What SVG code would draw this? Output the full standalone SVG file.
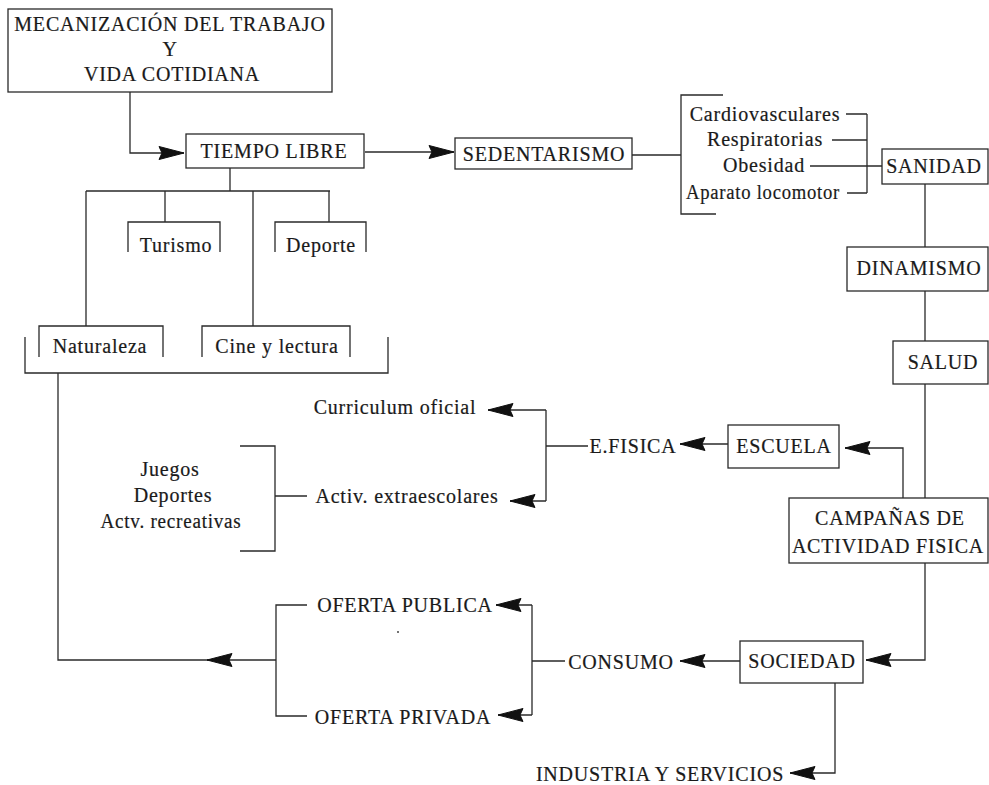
<svg xmlns="http://www.w3.org/2000/svg" width="989" height="785" viewBox="0 0 989 785">
<style>
text{font-family:"Liberation Serif","Times New Roman",serif;font-size:20px;fill:#1a1a1a;stroke:#1a1a1a;stroke-width:0.2px;letter-spacing:0.8px;text-anchor:middle}
.box{fill:#fff;stroke:#2a2a2a;stroke-width:1.3}
.ln{fill:none;stroke:#2a2a2a;stroke-width:1.3}
.ar{marker-end:url(#ah)}
.head{fill:#111;stroke:#111;stroke-width:1;stroke-linejoin:miter}
</style>
<defs>
<marker id="ah" viewBox="-27 -9 28 18" refX="0" refY="0" markerWidth="28" markerHeight="18" markerUnits="userSpaceOnUse" orient="auto">
<polygon class="head" points="0,0 -25,-6.5 -22,0 -25,6.5"/>
</marker>
</defs>
<rect width="989" height="785" fill="#fff"/>
<g id="connectors">
<path class="ln ar" d="M130,92 V153 H184"/>
<path class="ln ar" d="M365,152 H454"/>
<path class="ln" d="M230,168 V191 M86,191 H330 M86,191 V326 M165,191 V222 M253,191 V326 M329,191 V222"/>
<path class="ln" d="M25,337 V373 H388 V337"/>
<path class="ln" d="M58,373 V660 H210"/>
<path class="ln ar" d="M276,660 H207"/>
<path class="ln" d="M307,605 H276 V716 H307"/>
<path class="ln" d="M565,661 H532 M532,605 V715"/>
<path class="ln ar" d="M532,605 H496"/>
<path class="ln ar" d="M532,715 H498"/>
<path class="ln ar" d="M740,661 H680"/>
<path class="ln ar" d="M835,683 V773 H790"/>
<path class="ln ar" d="M925,563 V660 H866"/>
<path class="ln" d="M925,184 V247 M925,291 V341 M925,384 V498"/>
<path class="ln ar" d="M903,498 V448 H845"/>
<path class="ln ar" d="M728,444 H680"/>
<path class="ln" d="M588,446 H546 M546,410 V501"/>
<path class="ln ar" d="M546,410 H488"/>
<path class="ln ar" d="M546,501 H510"/>
<path class="ln" d="M240,446 H275 V551 H240 M275,496 H307"/>
<path class="ln" d="M632,155 H681 M723,95 H681 V214 H716"/>
<path class="ln" d="M846,114 H867 M832,140 H867 M810,166 H882 M847,193 H867 M867,114 V193"/>
<circle cx="398" cy="632" r="1" fill="#444"/>
</g>
<g id="mecanizacion">
<rect class="box" x="8" y="9" width="324" height="83"/>
<text x="170" y="31">MECANIZACIÓN DEL TRABAJO</text>
<text x="170" y="56">Y</text>
<text x="172" y="81">VIDA COTIDIANA</text>
</g>
<g id="tiempo-libre">
<rect class="box" x="186" y="134" width="178" height="34"/>
<text x="274" y="158">TIEMPO LIBRE</text>
</g>
<g id="sedentarismo">
<rect class="box" x="455" y="138" width="177" height="31"/>
<text x="544" y="161">SEDENTARISMO</text>
</g>
<g id="turismo">
<path class="ln" d="M128,252 V222 H220 V252"/>
<text x="176" y="252">Turismo</text>
</g>
<g id="deporte">
<path class="ln" d="M275,252 V222 H366 V252"/>
<text x="321" y="252">Deporte</text>
</g>
<g id="naturaleza">
<path class="ln" d="M39,357 V326 H163 V357"/>
<text x="100" y="353">Naturaleza</text>
</g>
<g id="cine">
<path class="ln" d="M202,357 V326 H350 V357"/>
<text x="277" y="353">Cine y lectura</text>
</g>
<g id="enfermedades">
<text x="765" y="121">Cardiovasculares</text>
<text x="765" y="146">Respiratorias</text>
<text x="764" y="172">Obesidad</text>
<text x="763" y="199" textLength="154" lengthAdjust="spacingAndGlyphs">Aparato locomotor</text>
</g>
<g id="sanidad">
<rect class="box" x="882" y="149" width="106" height="35"/>
<text x="934" y="173">SANIDAD</text>
</g>
<g id="dinamismo">
<rect class="box" x="847" y="247" width="141" height="44"/>
<text x="919" y="275">DINAMISMO</text>
</g>
<g id="salud">
<rect class="box" x="893" y="341" width="95" height="43"/>
<text x="943" y="369">SALUD</text>
</g>
<g id="campanas">
<rect class="box" x="789" y="498" width="199" height="65"/>
<text x="890" y="525">CAMPAÑAS DE</text>
<text x="888" y="553">ACTIVIDAD FISICA</text>
</g>
<g id="escuela">
<rect class="box" x="728" y="425" width="111" height="43"/>
<text x="784" y="453">ESCUELA</text>
</g>
<g id="efisica">
<text x="633" y="453">E.FISICA</text>
</g>
<g id="curriculum">
<text x="395" y="414">Curriculum oficial</text>
</g>
<g id="extraescolares">
<text x="407" y="503">Activ. extraescolares</text>
</g>
<g id="juegos">
<text x="170" y="476">Juegos</text>
<text x="173" y="502">Deportes</text>
<text x="171" y="528" textLength="141" lengthAdjust="spacingAndGlyphs">Actv. recreativas</text>
</g>
<g id="sociedad">
<rect class="box" x="740" y="641" width="123" height="42"/>
<text x="802" y="668">SOCIEDAD</text>
</g>
<g id="consumo">
<text x="621" y="669">CONSUMO</text>
</g>
<g id="oferta-publica">
<text x="405" y="612">OFERTA PUBLICA</text>
</g>
<g id="oferta-privada">
<text x="403" y="724">OFERTA PRIVADA</text>
</g>
<g id="industria">
<text x="660" y="781">INDUSTRIA Y SERVICIOS</text>
</g>
</svg>
